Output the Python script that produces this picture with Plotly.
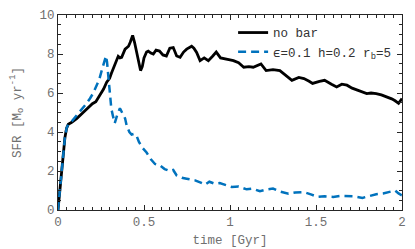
import plotly.graph_objects as go

t_nobar = [0, 0.01, 0.02, 0.03, 0.04, 0.05, 0.06, 0.08, 0.11, 0.14, 0.17, 0.2, 0.22, 0.245, 0.265, 0.283, 0.3, 0.31, 0.33, 0.35, 0.36, 0.37, 0.39, 0.41, 0.42, 0.434, 0.445, 0.457, 0.47, 0.48, 0.49, 0.5, 0.515, 0.525, 0.54, 0.554, 0.57, 0.59, 0.61, 0.63, 0.65, 0.67, 0.69, 0.71, 0.73, 0.748, 0.777, 0.79, 0.806, 0.826, 0.85, 0.874, 0.9, 0.92, 0.945, 0.97, 1.0, 1.02, 1.05, 1.08, 1.11, 1.135, 1.16, 1.18, 1.21, 1.25, 1.29, 1.32, 1.36, 1.4, 1.43, 1.46, 1.48, 1.52, 1.55, 1.59, 1.62, 1.65, 1.68, 1.71, 1.74, 1.77, 1.795, 1.82, 1.85, 1.88, 1.91, 1.94, 1.96, 1.98, 2.0]
sfr_nobar = [0, 0.9, 1.9, 2.9, 3.7, 4.2, 4.4, 4.5, 4.7, 4.95, 5.2, 5.45, 5.55, 5.9, 6.2, 6.55, 6.75, 7.0, 7.4, 7.88, 7.8, 7.83, 8.25, 8.4, 8.6, 8.95, 8.6, 8.08, 7.5, 7.15, 7.35, 7.8, 8.1, 8.15, 8.05, 8.0, 8.2, 8.15, 7.95, 7.9, 8.3, 8.33, 7.9, 7.83, 8.1, 8.25, 8.4, 8.3, 8.08, 7.66, 7.8, 7.66, 7.9, 8.1, 7.8, 7.74, 7.7, 7.66, 7.55, 7.32, 7.35, 7.32, 7.4, 7.49, 7.15, 7.2, 7.15, 6.95, 6.65, 6.8, 6.74, 6.6, 6.49, 6.6, 6.65, 6.45, 6.31, 6.45, 6.4, 6.25, 6.15, 6.05, 5.97, 6.0, 5.97, 5.9, 5.81, 5.7, 5.6, 5.47, 5.72]

t_bar = [0, 0.01, 0.02, 0.03, 0.04, 0.05, 0.06, 0.08, 0.1, 0.128, 0.16, 0.186, 0.205, 0.225, 0.24, 0.254, 0.268, 0.279, 0.285, 0.29, 0.3, 0.31, 0.32, 0.33, 0.345, 0.36, 0.375, 0.39, 0.4, 0.415, 0.428, 0.44, 0.455, 0.47, 0.49, 0.515, 0.54, 0.564, 0.59, 0.62, 0.65, 0.67, 0.69, 0.72, 0.748, 0.777, 0.797, 0.83, 0.855, 0.88, 0.91, 0.94, 0.97, 1.01, 1.05, 1.097, 1.13, 1.174, 1.21, 1.25, 1.29, 1.34, 1.38, 1.43, 1.47, 1.51, 1.55, 1.6, 1.64, 1.68, 1.72, 1.77, 1.81, 1.85, 1.89, 1.93, 1.96, 1.98, 2.0]
sfr_bar = [0, 0.9, 1.9, 2.9, 3.7, 4.2, 4.4, 4.55, 4.75, 5.05, 5.4, 5.72, 6.0, 6.4, 6.7, 7.15, 7.6, 7.9, 7.6, 7.07, 6.06, 5.2, 4.8, 4.45, 4.9, 5.22, 4.95, 4.7, 4.3, 4.0, 3.87, 3.9, 3.85, 3.5, 3.2, 2.95, 2.6, 2.36, 2.3, 2.1, 2.0, 2.05, 1.77, 1.65, 1.6, 1.57, 1.52, 1.4, 1.3, 1.45, 1.35, 1.38, 1.3, 1.18, 1.2, 1.06, 1.1, 0.96, 1.05, 1.1, 0.95, 0.84, 0.9, 0.92, 0.8, 0.67, 0.7, 0.67, 0.72, 0.71, 0.7, 0.62, 0.7, 0.81, 0.85, 0.92, 1.0, 0.85, 0.75]

x_ticks = [0, 0.5, 1, 1.5, 2]
x_ticklabels = ["0", "0.5", "1", "1.5", "2"]
y_ticks = [0, 2, 4, 6, 8, 10]

FONT = "Liberation Mono"
GRAY = "#707070"

fig = go.Figure()
fig.add_trace(go.Scatter(x=t_nobar, y=sfr_nobar, mode="lines", name="no bar",
                         line=dict(color="black", width=2.8)))
fig.add_trace(go.Scatter(x=t_bar, y=sfr_bar, mode="lines",
                         name="ϵ=0.1 h=0.2 r<sub>b</sub>=5",
                         line=dict(color="#0072BD", width=2.5, dash="8px,5px")))

axis_common = dict(showline=True, linecolor="#262626", linewidth=1, mirror="ticks",
                   ticks="inside", ticklen=5, tickcolor="#262626", showgrid=False,
                   zeroline=False, tickfont=dict(family=FONT, size=12.5, color=GRAY))

fig.update_xaxes(range=[0, 2], tickvals=x_ticks, ticktext=x_ticklabels,
                 minor=dict(dtick=0.05, ticks="inside", ticklen=3, tickcolor="#262626"),
                 title=dict(text="time [Gyr]", font=dict(family=FONT, size=12.5, color=GRAY), standoff=6),
                 **axis_common)
fig.update_yaxes(range=[0, 10], tickvals=y_ticks,
                 minor=dict(dtick=0.5, ticks="inside", ticklen=3, tickcolor="#262626"),
                 title=dict(text="SFR [M<sub>o</sub> yr<sup>-1</sup>]", font=dict(family=FONT, size=12.5, color=GRAY), standoff=15),
                 **axis_common)

fig.update_layout(width=415, height=249, margin=dict(l=50, r=21, t=7, b=47, autoexpand=False),
                  plot_bgcolor="white", paper_bgcolor="white",
                  legend=dict(x=0.509, y=0.985, xanchor="left", yanchor="top",
                              bgcolor="rgba(0,0,0,0)", font=dict(family=FONT, size=12.5, color="#333333"),
                              itemwidth=30, tracegroupgap=0),
                  showlegend=True)

fig.write_html("out.html")
